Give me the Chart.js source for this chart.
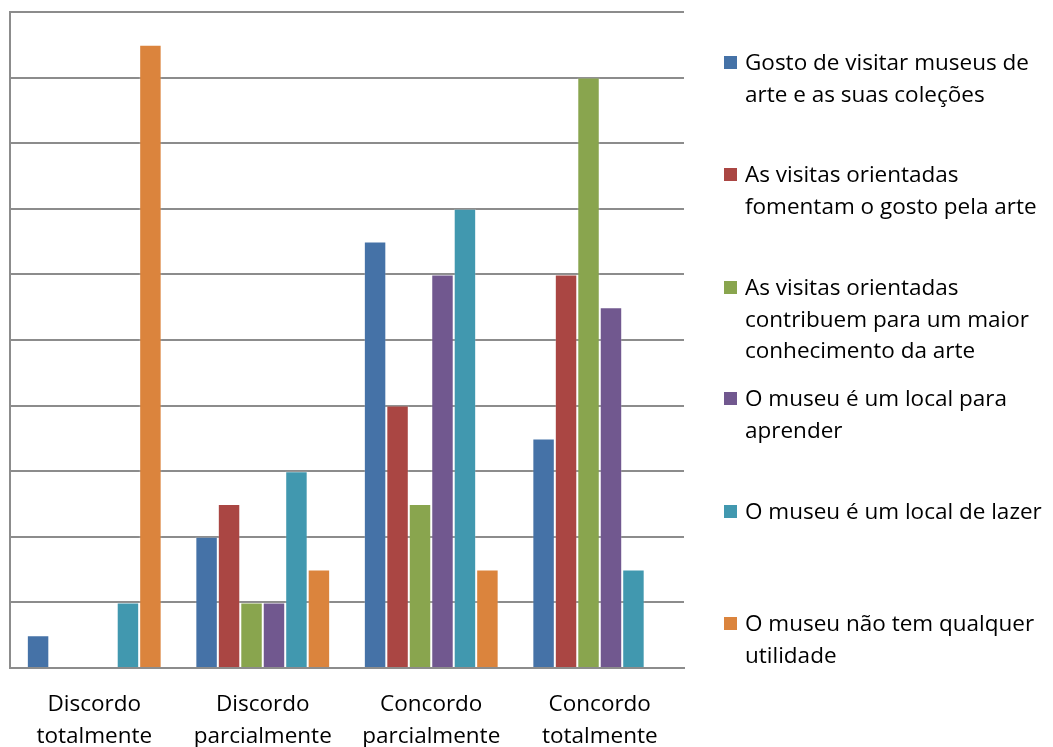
<!DOCTYPE html>
<html>
<head>
<meta charset="utf-8">
<script src="https://cdn.jsdelivr.net/npm/chart.js@4"></script>
<style>
  body { margin: 0; background: #fff; font-family: "Open Sans", sans-serif; }
  #wrap { position: relative; width: 1053px; height: 747px; overflow: hidden; }
  #legend { position: absolute; left: 724px; top: 0; width: 329px; }
  .item { position: absolute; left: 0; width: 329px; font-size: 22.5px; line-height: 31.5px; color: #000; white-space: nowrap; }
  .item .sw { position: absolute; left: 0; top: 10px; width: 13px; height: 13px; }
  .item .tx { margin-left: 21px; display: block; }
</style>
</head>
<body>
<div id="wrap">
  <canvas id="chart" width="1053" height="747"></canvas>
  <div id="legend"></div>
</div>
<script>
// === Data ===
const categories = [
  ['Discordo', 'totalmente'],
  ['Discordo', 'parcialmente'],
  ['Concordo', 'parcialmente'],
  ['Concordo', 'totalmente']
];
const seriesNames = [
  ['Gosto de visitar museus de', 'arte e as suas coleções'],
  ['As visitas orientadas', 'fomentam o gosto pela arte'],
  ['As visitas orientadas', 'contribuem para um maior', 'conhecimento da arte'],
  ['O museu é um local para', 'aprender'],
  ['O museu é um local de lazer'],
  ['O museu não tem qualquer', 'utilidade']
];
const gostoVisitar = [0.5, 2, 6.5, 3.5];
const fomentamGosto = [0, 2.5, 4, 6];
const contribuemConhecimento = [0, 1, 2.5, 9];
const localAprender = [0, 1, 6, 5.5];
const localLazer = [1, 3, 7, 1.5];
const semUtilidade = [9.5, 1.5, 1.5, 0];

const colors = ['#4572A7', '#AA4643', '#89A54E', '#71588F', '#4198AF', '#DB843D'];
const legendTops = [46, 158, 271, 382, 495, 607];

const seriesValues = [gostoVisitar, fomentamGosto, contribuemConhecimento, localAprender, localLazer, semUtilidade];

// === Chart ===
new Chart(document.getElementById('chart'), {
  type: 'bar',
  data: {
    labels: categories,
    datasets: seriesValues.map((vals, i) => ({
      label: seriesNames[i].join(' '),
      data: vals,
      backgroundColor: colors[i],
      borderColor: 'rgba(255,255,255,0.2)',
      borderWidth: 1
    }))
  },
  options: {
    responsive: false,
    animation: false,
    events: [],
    layout: { padding: { left: 10, top: 12, right: 369, bottom: 0 } },
    datasets: { bar: { categoryPercentage: 0.8, barPercentage: 1.0 } },
    plugins: { legend: { display: false }, tooltip: { enabled: false } },
    scales: {
      y: {
        min: 0, max: 10,
        ticks: { display: false, stepSize: 1 },
        grid: { color: '#8c8c8c', lineWidth: 2, drawTicks: false },
        border: { display: true, color: '#8c8c8c', width: 2 },
        afterFit: s => { s.width = 0; }
      },
      x: {
        grid: { display: false, drawTicks: false },
        border: { display: true, color: '#8c8c8c', width: 2 },
        ticks: {
          color: '#000',
          padding: 21,
          maxRotation: 0,
          font: { family: '"Open Sans", sans-serif', size: 22.5, lineHeight: 1.42 }
        },
        afterFit: s => { s.height = 79; }
      }
    }
  }
});

// === Legend ===
const legendEl = document.getElementById('legend');
seriesNames.forEach((lines, i) => {
  const item = document.createElement('div');
  item.className = 'item';
  item.style.top = legendTops[i] + 'px';
  const sw = document.createElement('span');
  sw.className = 'sw';
  sw.style.background = colors[i];
  const tx = document.createElement('span');
  tx.className = 'tx';
  tx.innerHTML = lines.join('<br>');
  item.appendChild(sw);
  item.appendChild(tx);
  legendEl.appendChild(item);
});
</script>
</body>
</html>
